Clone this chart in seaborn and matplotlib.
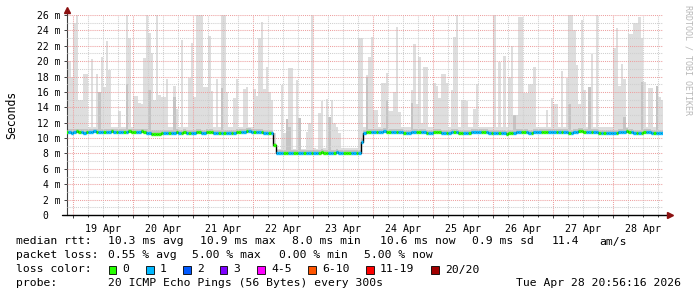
import numpy as np
import pandas as pd
import matplotlib
matplotlib.use("Agg")
import matplotlib.pyplot as plt
from matplotlib.patches import Rectangle
import seaborn as sns

# ---------------- data (hourly bins, first bin = Apr 18 21:00) ----------------
smoke_max = (
    [20, 20, 18] +
    [25, 26, 15, 15, 18.3, 18.3, 11.4, 20.3, 11.4, 18.3, 16, 20.5, 16.6, 22.6, 18.9, 11.4, 11.4, 11.4, 13.5, 11.4, 11.4, 26, 23, 11.4] +
    [15.5, 15.5, 14.5, 14.4, 20.4, 26, 23.6, 21, 15, 26, 15.6, 15.3, 15.3, 17.7, 11.4, 11.4, 16.8, 13.8, 11.4, 22.7, 11.4, 11.4, 17.8, 22.4] +
    [15.3, 26, 26, 26, 16.7, 16.7, 23.3, 16.1, 11.4, 17.7, 11.4, 26, 26, 16, 11.4, 11.4, 15.2, 17.7, 11.4, 11.4, 16.4, 16.6, 11.4, 11.4] +
    [16.4, 15.5, 23, 25.1, 16.4, 19.2, 16, 15, 10.6, 8.6, 8.6, 16.9, 10.6, 12, 19.1, 19.1, 8.6, 17.5, 12.6, 8.6, 8.6, 10.8, 11.9, 26] +
    [8.7, 8.6, 13.2, 14.8, 8.7, 15.1, 12.7, 15, 12, 11.4, 10.6, 8.7, 8.7, 8.7, 8.7, 8.7, 8.7, 8.7, 23, 23, 11.4, 18.2, 20.5, 23.1] +
    [13.7, 13.7, 11.4, 17.1, 17.1, 18.5, 13.5, 13.5, 16, 24.4, 13.4, 11.4, 11.4, 11.4, 11.4, 16.3, 22.2, 14.4, 20.5, 12, 19.2, 19.2, 11.4, 11.4] +
    [17.1, 16.8, 15.2, 18.3, 18.3, 17.1, 11.4, 16.3, 23.1, 26, 11.4, 15, 15, 14.8, 11.4, 11.4, 13.8, 17, 11.4, 11.4, 11.4, 11.4, 11.4, 11.4] +
    [26, 11.4, 19.9, 11.4, 20.7, 11.4, 18, 22, 13, 13, 25.8, 25.8, 15.9, 15.9, 17, 17, 19.2, 11.4, 11.4, 11.4, 11.4, 13.7, 11.4, 15.2] +
    [14.4, 14.4, 11.4, 18.7, 11.4, 17.8, 26, 26, 24, 19.5, 14.4, 25.3, 16.3, 11.4, 16.7, 20.9, 11.4, 26, 11.4, 11.4, 11.4, 11.4, 11.4, 11.4] +
    [21.7, 24.3, 16.8, 19.6, 17.7, 11.4, 23.5, 23.5, 24.9, 24.9, 25.8, 23, 17.3, 11.4, 16.5, 16.5, 11.4, 16.8, 15.3, 15, 15]
)

smoke_inner = (
    [11.2, 11.2, 11.2] +
    [11.2, 11.2, 11.2, 11.2, 11.2, 11.2, 11.2, 11.2, 11.2, 11.2, 16, 11.2, 11.2, 11.2, 11.2, 11.2, 11.2, 11.2, 11.2, 11.2, 11.2, 17, 11.2, 11.2] +
    [11.2, 11.2, 11.2, 11.2, 11.2, 11.2, 16.3, 11.1, 11.0, 11.0, 11.0, 11.1, 11.1, 11.1, 11.1, 11.1, 15.4, 11.2, 11.1, 11.1, 11.2, 11.1, 11.1, 11.1] +
    [11.1, 11.2, 11.2, 11.1, 11.1, 11.2, 11.2, 11.2, 11.1, 11.1, 11.0, 16.5, 11.1, 11.1, 11.1, 11.1, 11.1, 11.2, 11.2, 11.2, 11.2, 11.3, 11.3, 11.2] +
    [11.2, 11.2, 11.2, 11.2, 11.1, 11.1, 11.1, 11.0, 9.4, 8.5, 8.4, 8.5, 8.5, 12.5, 11.5, 8.5, 8.5, 8.5, 12.6, 8.4, 8.5, 8.5, 8.5, 8.5] +
    [8.5, 8.5, 8.5, 8.6, 8.5, 8.5, 12.7, 8.5, 8.5, 8.6, 8.5, 8.4, 8.5, 8.5, 8.5, 8.5, 8.5, 8.4, 8.4, 9.9, 11.1, 18, 11.2, 11.2] +
    [11.2, 11.2, 11.2, 11.2, 11.3, 15, 11.2, 11.2, 11.2, 11.2, 11.2, 11.2, 11.1, 11.1, 11.1, 14.6, 11.2, 11.2, 11.2, 11.2, 11.2, 11.1, 11.1, 11.1] +
    [11.2, 11.2, 11.2, 11.1, 11.1, 11.1, 11.1, 11.2, 11.2, 11.2, 11.1, 11.1, 11.1, 11.1, 11.1, 11.2, 11.2, 11.2, 11.2, 11.2, 11.2, 11.2, 11.1, 11.1] +
    [11.1, 11.1, 11.1, 11.0, 11.0, 10.9, 11.0, 11.1, 13, 11.2, 11.2, 11.2, 11.2, 11.2, 11.1, 11.1, 11.2, 11.2, 11.2, 11.2, 11.2, 11.2, 11.2, 11.2] +
    [11.2, 11.2, 11.2, 11.2, 11.2, 11.2, 14.4, 11.1, 11.2, 11.2, 11.3, 11.3, 11.2, 11.2, 16.7, 11.2, 11.2, 11.2, 11.1, 11.1, 11.1, 11.1, 11.1, 11.1] +
    [11.1, 11.1, 11.2, 11.2, 12.8, 11.3, 11.2, 11.2, 11.1, 11.0, 11.0, 17.3, 11.2, 11.2, 11.2, 11.1, 11.1, 16.8, 11.0, 11.0, 11.0]
)

median_rtt = (
    [10.8, 10.8, 10.7] +
    [10.8, 10.9, 10.8, 10.8, 10.7, 10.8, 10.8, 10.8, 10.9, 10.8, 10.8, 10.8, 10.8, 10.8, 10.8, 10.9, 10.8, 10.8, 10.8, 10.8, 10.8, 10.8, 10.9, 10.8] +
    [10.8, 10.8, 10.8, 10.9, 10.8, 10.7, 10.6, 10.5, 10.5, 10.5, 10.5, 10.6, 10.7, 10.7, 10.7, 10.7, 10.7, 10.8, 10.7, 10.7, 10.8, 10.7, 10.7, 10.7] +
    [10.7, 10.8, 10.8, 10.7, 10.7, 10.8, 10.8, 10.8, 10.7, 10.7, 10.6, 10.6, 10.7, 10.7, 10.7, 10.7, 10.7, 10.8, 10.8, 10.8, 10.8, 10.9, 10.9, 10.8] +
    [10.8, 10.8, 10.8, 10.8, 10.7, 10.7, 10.7, 10.6, 9.1, 8.1, 8.0, 8.1, 8.1, 8.1, 8.0, 8.1, 8.1, 8.1, 8.1, 8.0, 8.1, 8.1, 8.1, 8.1] +
    [8.1, 8.1, 8.1, 8.2, 8.1, 8.1, 8.1, 8.1, 8.1, 8.2, 8.1, 8.0, 8.1, 8.1, 8.1, 8.1, 8.1, 8.0, 8.0, 9.5, 10.7, 10.8, 10.8, 10.8] +
    [10.8, 10.8, 10.8, 10.8, 10.9, 10.8, 10.8, 10.8, 10.8, 10.8, 10.8, 10.8, 10.7, 10.7, 10.7, 10.8, 10.8, 10.8, 10.8, 10.8, 10.8, 10.7, 10.7, 10.7] +
    [10.8, 10.8, 10.8, 10.7, 10.7, 10.7, 10.7, 10.8, 10.8, 10.8, 10.7, 10.7, 10.7, 10.7, 10.7, 10.8, 10.8, 10.8, 10.8, 10.8, 10.8, 10.8, 10.7, 10.7] +
    [10.7, 10.7, 10.7, 10.6, 10.6, 10.5, 10.6, 10.7, 10.7, 10.8, 10.8, 10.8, 10.8, 10.8, 10.7, 10.7, 10.8, 10.8, 10.8, 10.8, 10.8, 10.8, 10.8, 10.8] +
    [10.8, 10.8, 10.8, 10.8, 10.8, 10.8, 10.7, 10.7, 10.8, 10.8, 10.9, 10.9, 10.8, 10.8, 10.8, 10.8, 10.8, 10.8, 10.7, 10.7, 10.7, 10.7, 10.7, 10.7] +
    [10.7, 10.7, 10.8, 10.8, 10.8, 10.9, 10.8, 10.8, 10.7, 10.6, 10.6, 10.7, 10.8, 10.8, 10.8, 10.7, 10.7, 10.7, 10.6, 10.6, 10.6]
)

loss_count = (
    [0, 1, 1] +
    [1, 0, 0, 1, 1, 0, 1, 1, 1, 0, 1, 1, 0, 1, 1, 0, 1, 0, 1, 1, 0, 1, 0, 0] +
    [0, 1, 1, 0, 0, 1, 1, 0, 0, 0, 0, 0, 1, 1, 0, 1, 1, 0, 1, 0, 0, 1, 0, 1] +
    [1, 0, 0, 1, 1, 0, 0, 0, 1, 1, 0, 1, 0, 1, 1, 0, 1, 0, 0, 1, 1, 0, 1, 1] +
    [0, 1, 1, 0, 1, 1, 0, 1, 0, 1, 1, 1, 0, 0, 1, 1, 0, 0, 1, 1, 0, 1, 1, 0] +
    [1, 1, 0, 0, 0, 0, 1, 1, 0, 1, 1, 1, 0, 0, 0, 1, 1, 0, 1, 1, 1, 0, 0, 1] +
    [1, 0, 1, 1, 1, 0, 0, 1, 1, 0, 1, 1, 0, 1, 1, 1, 1, 0, 0, 1, 1, 0, 1, 1] +
    [0, 0, 0, 1, 1, 0, 1, 1, 0, 1, 0, 0, 1, 1, 0, 1, 1, 1, 1, 0, 0, 1, 1, 0] +
    [1, 1, 0, 1, 1, 0, 0, 0, 1, 1, 1, 0, 0, 1, 1, 0, 1, 1, 1, 0, 0, 0, 1, 1] +
    [1, 0, 1, 0, 1, 1, 0, 1, 1, 1, 0, 0, 0, 1, 1, 0, 1, 1, 0, 1, 0, 1, 1, 1] +
    [1, 0, 1, 1, 1, 0, 0, 1, 1, 0, 1, 0, 0, 1, 1, 1, 0, 1, 1, 1, 2]
)

day_labels = ["19 Apr", "20 Apr", "21 Apr", "22 Apr", "23 Apr",
              "24 Apr", "25 Apr", "26 Apr", "27 Apr", "28 Apr"]
ytick_values = [0, 2, 4, 6, 8, 10, 12, 14, 16, 18, 20, 22, 24, 26]
ytick_labels = ["0  ", "2 m", "4 m", "6 m", "8 m", "10 m", "12 m", "14 m",
                "16 m", "18 m", "20 m", "22 m", "24 m", "26 m"]

loss_legend = ["0", "1", "2", "3", "4-5", "6-10", "11-19", "20/20"]
loss_colors = ["#26ff00", "#00b8ff", "#0059ff", "#7e00ff", "#ff00ff",
               "#ff5500", "#ff0000", "#a10000"]

stats_rtt = ["median rtt:", "10.3 ms avg", "10.9 ms max", "8.0 ms min",
             "10.6 ms now", "0.9 ms sd", "11.4", "am/s"]
stats_loss = ["packet loss:", "0.55 % avg", "5.00 % max", "0.00 % min", "5.00 % now"]
probe_text = ["probe:", "20 ICMP Echo Pings (56 Bytes) every 300s",
              "Tue Apr 28 20:56:16 2026"]

# ---------------- figure ----------------
sns.set_theme(style="white")
plt.rcParams['font.family'] = ['DejaVu Sans Mono', 'DejaVu Sans']

W, H = 697, 297
fig = plt.figure(figsize=(W / 100, H / 100), dpi=100)
fig.patch.set_facecolor("white")

def fx(px):
    return px / W

def fy(py):
    return 1 - py / H

ax = fig.add_axes([fx(67), fy(215), 596 / W, 200 / H])
ax.set_facecolor("white")

n = len(median_rtt)
hours = np.arange(n) - 3.0          # bin start, hours since Apr 19 00:00
med = np.array(median_rtt)
smax = np.array(smoke_max)
sinn = np.array(smoke_inner)
loss = np.array(loss_count)

# smoke
ax.bar(hours, smax - med, bottom=med, width=1.0, align="edge",
       color="#dedede", linewidth=0, zorder=1)
ax.bar(hours, np.maximum(sinn - med, 0), bottom=med, width=1.0, align="edge",
       color="#c4c4c4", linewidth=0, zorder=1.1)

# black step base of the median line
df_step = pd.DataFrame({"t": np.append(hours, hours[-1] + 1),
                        "rtt": np.append(med, med[-1])})
sns.lineplot(data=df_step, x="t", y="rtt", drawstyle="steps-post",
             color="black", linewidth=1.0, ax=ax, zorder=3, estimator=None)

# colored median by loss
loss_idx = {0: 0, 1: 1, 2: 2, 3: 3, 4: 4, 5: 4}
for lv in np.unique(loss):
    m = loss == lv
    ax.hlines(med[m], hours[m], hours[m] + 1, colors=loss_colors[loss_idx[int(lv)]],
              linewidth=2.4, zorder=4)

ax.set_xlabel("")
ax.set_ylabel("")

# axes limits
ax.set_xlim(-2.4, 236.0)
ax.set_ylim(0, 26)

# grid
ax.set_xticks(np.arange(0, 240, 24))
ax.set_xticks(np.arange(0, 240, 6), minor=True)
ax.set_yticks(ytick_values)
ax.set_yticks(np.arange(0, 27, 1), minor=True)
ax.set_yticklabels(ytick_labels, fontsize=7)
ax.set_xticklabels([])
ax.grid(which="minor", color="#cfcfcf", linestyle=(0, (1, 1)), linewidth=0.75)
ax.grid(which="major", color="#eda0a0", linestyle=(0, (1, 1)), linewidth=0.75)
ax.set_axisbelow(False)
for gl in ax.get_xgridlines() + ax.get_ygridlines():
    gl.set_zorder(2)

ax.tick_params(axis="y", which="both", direction="out", length=2.2, width=0.7,
               color="#404040", pad=2.5, labelsize=7, labelcolor="black", left=True)
ax.tick_params(axis="y", which="minor", length=0)
ax.tick_params(axis="x", which="both", direction="out", length=2, width=0.7,
               color="#404040", bottom=True)
ax.tick_params(axis="x", which="minor", length=1.2)

for d, lbl in enumerate(day_labels):
    ax.text(24 * d + 12, -0.045, lbl, transform=ax.get_xaxis_transform(),
            ha="center", va="top", fontsize=7.2, color="black")

for s in ["top", "right"]:
    ax.spines[s].set_visible(False)
ax.spines["left"].set_color("#404040")
ax.spines["left"].set_linewidth(0.8)
ax.spines["bottom"].set_visible(False)

# x axis line with arrow, y axis extension with arrow
ax.plot([-4.4, 237.5], [0, 0], color="black", lw=1.0, clip_on=False, zorder=5)
ax.plot([238.6], [0], marker=">", color="#8b1010", markersize=4, clip_on=False, zorder=6)
ax.plot([-2.4, -2.4], [26, 26.4], color="#404040", lw=0.8, clip_on=False, zorder=5)
ax.plot([-2.4], [26.6], marker="^", color="#8b1010", markersize=4, clip_on=False, zorder=6)

# y label & watermark
fig.text(fx(12), fy(115), "Seconds", rotation=90, ha="center", va="center",
         fontsize=8.3, color="black")
fig.text(fx(688), fy(60), "RRDTOOL / TOBI OETIKER", rotation=270, ha="center",
         va="center", fontsize=6, color="#b8b8b8")

# legend rows
FS = 8.2
row_y = [241.5, 255.5, 269.5, 283.5]
rtt_x = [16, 107.6, 200, 292.5, 379.5, 472, 551.5, 599.5]
for txt, x in zip(stats_rtt, rtt_x):
    fig.text(fx(x), fy(row_y[0]), txt, ha="left", va="center", fontsize=FS, color="black")
loss_x = [16, 107.6, 192.4, 279, 364.4]
for txt, x in zip(stats_loss, loss_x):
    fig.text(fx(x), fy(row_y[1]), txt, ha="left", va="center", fontsize=FS, color="black")

fig.text(fx(16), fy(row_y[2]), "loss color:", ha="left", va="center", fontsize=FS, color="black")
sq_x = [108.5, 146, 183, 219.5, 257, 308, 366, 431]
for txt, col, x in zip(loss_legend, loss_colors, sq_x):
    fig.patches.append(Rectangle((fx(x), fy(row_y[2] + 4)), 7.5 / W, 7.5 / H,
                                 transform=fig.transFigure, facecolor=col,
                                 edgecolor="black", linewidth=0.6))
    fig.text(fx(x + 14), fy(row_y[2]), txt, ha="left", va="center", fontsize=FS, color="black")

fig.text(fx(16), fy(row_y[3]), probe_text[0], ha="left", va="center", fontsize=FS, color="black")
fig.text(fx(107.6), fy(row_y[3]), probe_text[1], ha="left", va="center", fontsize=FS, color="black")
fig.text(fx(680.5), fy(row_y[3]), probe_text[2], ha="right", va="center", fontsize=FS, color="black")

fig.savefig("out.png", dpi=100, facecolor="white")
